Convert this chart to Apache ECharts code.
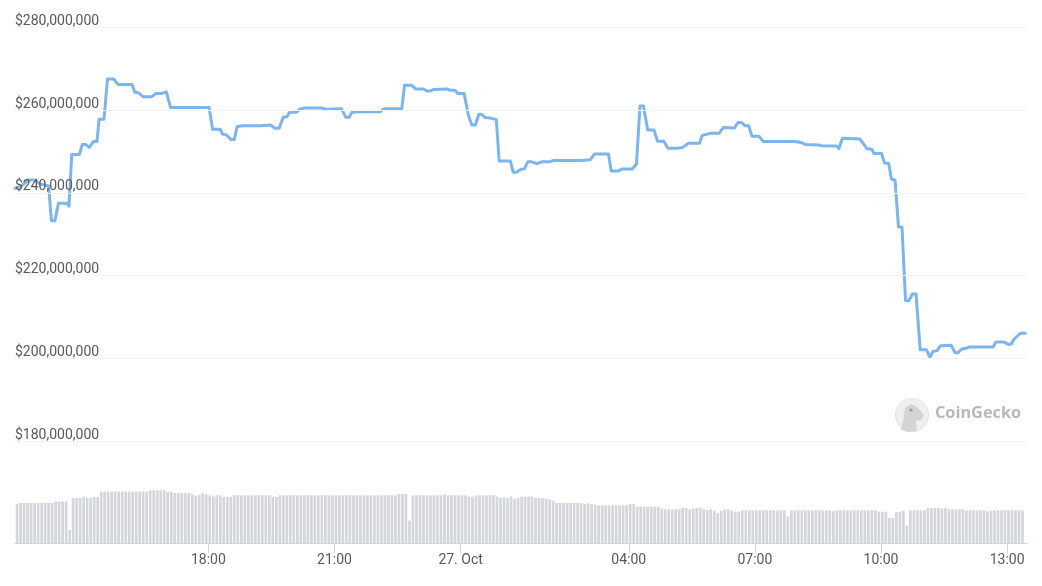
<!DOCTYPE html>
<html>
<head>
<meta charset="utf-8">
<style>html,body{margin:0;padding:0;background:#fff}#c{width:1042px;height:586px}</style>
<script src="https://cdn.jsdelivr.net/npm/echarts@6/dist/echarts.min.js"></script>
</head>
<body>
<div id="c"></div>
<script>
// Minutes after the axis start (26 Oct 13:24) for each turning point of the price line
const priceMinutes = [0,7,14,19,29,36,48,52,57,62,74,77,81,92,96,101,106,112,117,120,127,132,141,147,167,171,176,183,195,201,209,216,222,277,282,293,296,302,308,313,317,324,350,352,365,371,377,383,388,392,402,407,414,438,443,466,472,477,481,490,521,527,552,556,566,572,583,588,592,598,616,621,628,632,641,647,652,657,662,666,671,678,680,687,691,707,711,716,722,727,732,737,745,752,763,768,809,821,827,847,851,861,867,881,887,892,897,903,912,917,926,932,945,953,961,977,981,988,993,1005,1011,1027,1032,1037,1042,1047,1052,1062,1068,1113,1122,1128,1147,1151,1173,1176,1181,1206,1216,1223,1226,1237,1241,1247,1251,1256,1261,1266,1271,1276,1281,1286,1292,1301,1306,1310,1316,1321,1336,1342,1346,1351,1358,1362,1396,1400,1411,1418,1422,1426,1435,1442];
// Price in millions of dollars at those points
const priceMillions = [241.1,241.5,242.3,243.1,243.1,242.1,241.7,233.3,233.3,237.5,237.5,236.8,249.3,249.3,251.7,251.7,251.0,252.4,252.4,257.8,257.8,267.5,267.5,266.2,266.2,264.3,264.2,263.2,263.2,264.0,264.0,264.4,260.6,260.6,255.4,255.4,254.2,254.0,252.9,252.9,256.0,256.2,256.2,256.4,256.4,255.6,255.6,258.3,258.4,259.5,259.5,260.3,260.5,260.5,260.2,260.3,258.3,258.3,259.5,259.6,259.6,260.3,260.3,266.0,266.0,265.1,265.1,264.6,264.6,265.0,265.1,264.8,264.8,264.0,264.0,258.8,256.4,256.4,259.0,259.0,258.2,258.1,257.8,257.7,247.7,247.7,245.0,245.0,245.7,245.8,247.5,247.5,247.1,247.5,247.5,247.8,247.8,248.0,249.4,249.4,245.3,245.3,245.8,245.8,246.9,261.0,261.0,255.2,255.2,252.5,252.5,250.8,250.8,251.0,252.0,252.0,253.9,254.2,254.4,254.4,255.8,255.7,257.0,257.0,256.2,256.2,253.7,253.7,252.4,252.4,252.2,251.7,251.6,251.4,251.3,250.7,253.2,253.0,250.7,250.5,249.5,249.5,247.2,247.1,243.3,243.1,231.8,231.7,214.0,214.0,215.6,215.6,202.1,202.1,200.3,201.7,201.9,203.1,203.2,201.4,201.4,202.3,202.5,202.8,202.8,204.0,204.0,203.4,203.5,204.7,206.1,206.1];
// Traded volume, one bar every five minutes, in the lower panel's units
const volumeValues = [39.3,40.3,40.3,40.3,40.3,40.3,40.3,40.3,40.3,40.3,40.3,41.7,41.7,41.7,41.7,13.3,45.3,45.3,45.3,46.3,45.3,45.3,46.3,46.3,
51.7,51.7,51.7,51.7,51.7,51.7,51.7,51.7,51.7,51.7,51.7,51.7,51.7,51.7,53,53,53,53,53,51.3,51.3,50.3,50.3,50.3,50.3,50.3,
49.3,47.7,48.5,50,49,48,46.7,48,48,46.3,46.3,46.3,48,48,48,48,48,48,48,48,48,48,48,46.5,46.5,
48,48,48,48,48,48,48,48,48,48,48,48,48,48,48,48,48,48,48,48,48,
48,48,48,48,48,48,48,48,48,48,48,48,48,49.3,49.3,49.3,22.7,48,48,48,48,48,48,48,48,48,49,48,48,48,48,48,48,46.7,46.7,
48,48,48,48,48,48,46.7,45.3,46,45.3,46.7,44.7,45.3,46.7,46.7,46.7,46.7,45.3,45.3,45.3,44.3,43.7,42.7,
40.3,40.3,40.3,40.3,40.3,40.3,40.3,40.3,39.3,40,39.3,38.7,38,38,38,38,38,38,38,38,38,39.3,39.3,
36.7,36.7,36.7,36.7,36.7,36.7,36.7,35,34,34,34,34,34,35.3,35.3,34,34.7,35.3,35.3,34,33.3,34,32.7,30.3,32.7,34,34,32.7,31.7,31.7,
33,33,33,33,33,33,33,33,33,33,33,33,33,26.7,33,33,33,33,33,33,33,33,33,33,33,33,32,
33,33,33,33,33,33,33,33,33,33,33,33,31.7,31.7,31.7,25.3,25.3,31.3,31.7,32.7,17.7,33,33,33,33,33,
35.3,35.3,35.3,35.3,34.7,35.3,34,34,34,34,34,33,33,33,33,33,33,32,32.5,33,33,33,33,33,33,33,33,33];
const volumeFirstMinute = 3;
const volumeStepMinutes = 5;
const tickMinutes = [276,456,636,876,1056,1236,1416];
const tickLabels = ['18:00','21:00','27. Oct','04:00','07:00','10:00','13:00'];
const priceTicksMax = 280, priceTicksMin = 180, priceTickStep = 20;
const axisEndMinutes = 1444.4;

const chart = echarts.init(document.getElementById('c'), null, {renderer:'canvas'});
const font = 'Roboto, sans-serif';
chart.setOption({
  animation: false,
  backgroundColor: '#fff',
  grid: [
    {left: 15, right: 15, top: 27.3, height: 414},
    {left: 15, right: 15, top: 441.3, height: 102}
  ],
  xAxis: [
    {type:'value', gridIndex:0, min:0, max:axisEndMinutes, show:false},
    {type:'value', gridIndex:1, min:0, max:axisEndMinutes,
      axisLine:{show:true, onZero:false, lineStyle:{color:'#ccd6eb', width:1}},
      axisTick:{show:true, length:10, customValues:tickMinutes, lineStyle:{color:'#ccd6eb', width:1}},
      minorTick:{show:false}, splitLine:{show:false},
      axisLabel:{show:true, customValues:tickMinutes, margin:10, hideOverlap:false,
        color:'#595959', fontFamily:font, fontSize:14,
        formatter: v => tickLabels[tickMinutes.indexOf(+v)] || ''}
    }
  ],
  yAxis: [
    {type:'value', gridIndex:0, min:priceTicksMin, max:priceTicksMax, interval:priceTickStep, z:10,
      axisLine:{show:false}, axisTick:{show:false},
      splitLine:{show:true, lineStyle:{color:'#f3f3f3', width:1}},
      axisLabel:{inside:true, margin:0, verticalAlign:'bottom', lineHeight:12, color:'#595959', fontFamily:font, fontSize:14,
        formatter: v => '$' + (v*1e6).toLocaleString('en-US')}
    },
    {type:'value', gridIndex:1, min:0, max:102, show:false, splitLine:{show:false}}
  ],
  series: [
    {type:'bar', xAxisIndex:1, yAxisIndex:1, barWidth:2.7, z:1,
      itemStyle:{color:'#d3d6db'},
      data: volumeValues.map((v,i)=>[volumeFirstMinute+i*volumeStepMinutes, v])},
    {type:'line', xAxisIndex:0, yAxisIndex:0, showSymbol:false, z:3, clip:false,
      lineStyle:{color:'#7cb5ec', width:3, join:'round', cap:'round'},
      data: priceMinutes.map((m,i)=>[m, priceMillions[i]])}
  ],
  graphic: [
    {type:'circle', shape:{cx:912, cy:415, r:16.5}, style:{fill:'#efefef', stroke:'#e0e0e0', lineWidth:1}, z:5},
    {type:'polygon', shape:{points:[[901,430],[904,416],[905,408],[911,404],[917,407],[924,415],[921,420],[916,421],[917,431],[908,432]]}, style:{fill:'#d4d4d4'}, z:6},
    {type:'circle', shape:{cx:911, cy:410, r:1.6}, style:{fill:'#9a9a9a'}, z:7},
    {type:'text', left:935, top:405, z:6, style:{text:'CoinGecko', fill:'#b8b8b8', fontFamily:'"Open Sans", sans-serif', fontWeight:'bold', fontSize:16.3}}
  ]
});
</script>
</body>
</html>
